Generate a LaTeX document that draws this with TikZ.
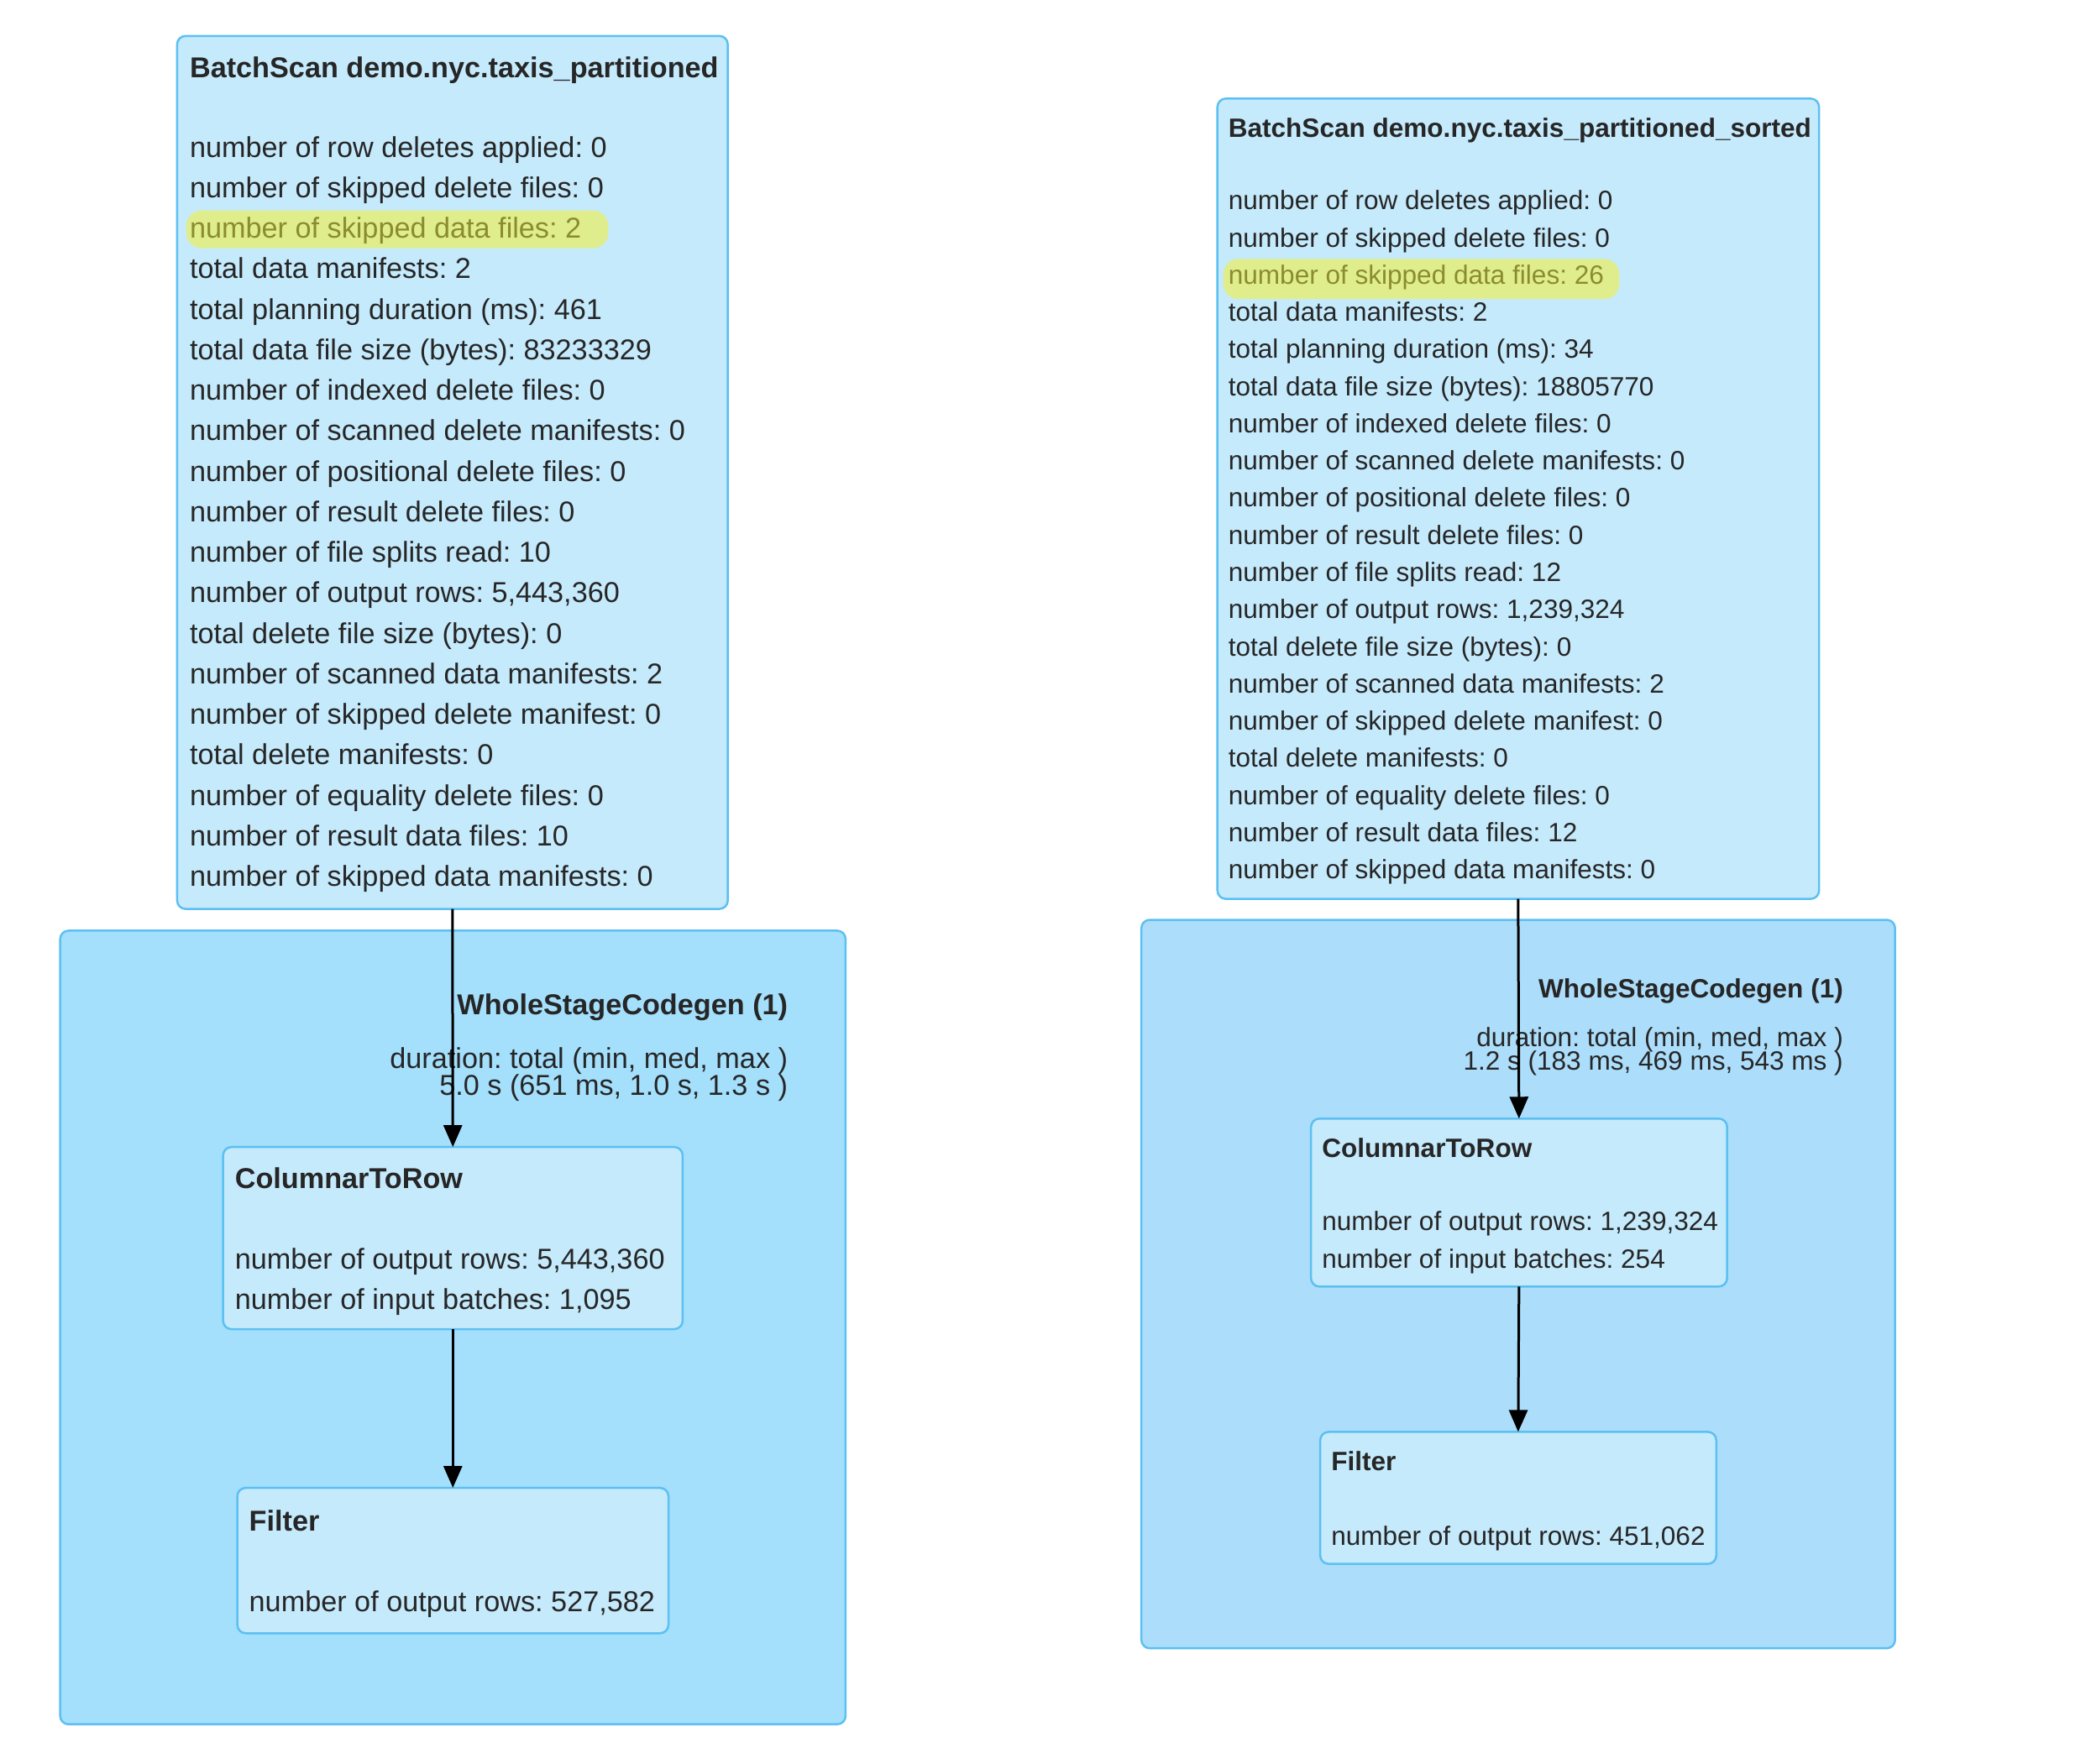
\documentclass[tikz,border=0pt]{standalone}
\usepackage{fontspec}
\setmainfont{Liberation Sans}
\usetikzlibrary{arrows.meta}
\frenchspacing

\definecolor{boxfill}{RGB}{197,234,252}
\definecolor{boxline}{RGB}{92,192,242}
\definecolor{clusfillL}{RGB}{164,223,252}
\definecolor{clusfillR}{RGB}{172,221,250}
\definecolor{txt}{RGB}{38,38,38}
\definecolor{hlfill}{RGB}{224,237,140}
\definecolor{hltext}{RGB}{138,140,48}

\newcommand{\fontL}{\fontsize{34.4}{40}\selectfont}
\newcommand{\fontR}{\fontsize{31.7}{37}\selectfont}

\tikzset{
  clusbox/.style={draw=boxline, line width=2.5pt, rounded corners=10pt, anchor=north west, inner sep=0pt, outer sep=0pt},
  opbox/.style={draw=boxline, fill=boxfill, line width=2.5pt, rounded corners=10pt, anchor=north west, inner sep=0pt, outer sep=0pt},
  metric/.style={anchor=base west, inner sep=0pt, text=txt},
  stagelabel/.style={anchor=base east, inner sep=0pt, text=txt},
  hl/.style={fill=hlfill, rounded corners=18pt},
  flow/.style={line width=3pt, -{Triangle[length=26pt,width=22pt]}}
}

\begin{document}
\begin{tikzpicture}[x=1pt,y=-1pt,scale=0.995,every node/.append style={transform shape}]
  \useasboundingbox (0,0) rectangle (2502.5,2110.55);

  %%left plan
  \node[clusbox, fill=clusfillL, minimum width=940pt, minimum height=950pt] (wscgL) at (72,1114) {};
  \node[opbox, minimum width=659pt, minimum height=1045pt] (scanL) at (212,43) {};
  \fill[hl] (223,252) rectangle (728,297);
  \node[metric, font=\fontL\bfseries] (tL) at (227,93) {BatchScan demo.nyc.taxis\_partitioned};
  \node[metric, font=\fontL] (l0) at (227,188) {number of row deletes applied: 0};
  \node[metric, font=\fontL] (l1) at (227,236.5) {number of skipped delete files: 0};
  \node[metric, font=\fontL, text=hltext] (l2) at (227,285) {number of skipped data files: 2};
  \node[metric, font=\fontL] (l3) at (227,333.5) {total data manifests: 2};
  \node[metric, font=\fontL] (l4) at (227,382) {total planning duration (ms): 461};
  \node[metric, font=\fontL] (l5) at (227,430.5) {total data file size (bytes): 83233329};
  \node[metric, font=\fontL] (l6) at (227,479) {number of indexed delete files: 0};
  \node[metric, font=\fontL] (l7) at (227,527.5) {number of scanned delete manifests: 0};
  \node[metric, font=\fontL] (l8) at (227,576) {number of positional delete files: 0};
  \node[metric, font=\fontL] (l9) at (227,624.5) {number of result delete files: 0};
  \node[metric, font=\fontL] (l10) at (227,673) {number of file splits read: 10};
  \node[metric, font=\fontL] (l11) at (227,721.5) {number of output rows: 5,443,360};
  \node[metric, font=\fontL] (l12) at (227,770) {total delete file size (bytes): 0};
  \node[metric, font=\fontL] (l13) at (227,818.5) {number of scanned data manifests: 2};
  \node[metric, font=\fontL] (l14) at (227,867) {number of skipped delete manifest: 0};
  \node[metric, font=\fontL] (l15) at (227,915.5) {total delete manifests: 0};
  \node[metric, font=\fontL] (l16) at (227,964) {number of equality delete files: 0};
  \node[metric, font=\fontL] (l17) at (227,1012.5) {number of result data files: 10};
  \node[metric, font=\fontL] (l18) at (227,1061) {number of skipped data manifests: 0};

  \node[stagelabel, font=\fontL\bfseries] (wL) at (943,1215) {WholeStageCodegen (1)};
  \node[stagelabel, font=\fontL] (dL) at (943,1279) {duration: total (min, med, max )};
  \node[stagelabel, font=\fontL] (vL) at (943,1311) {5.0 s (651 ms, 1.0 s, 1.3 s )};

  %%ColumnarToRow
  \node[opbox, minimum width=550pt, minimum height=218pt] (ctrL) at (267,1373) {};
  \node[metric, font=\fontL\bfseries] at (281,1423) {ColumnarToRow};
  \node[metric, font=\fontL] at (281,1519) {number of output rows: 5,443,360};
  \node[metric, font=\fontL] at (281,1567) {number of input batches: 1,095};
  %%Filter
  \node[opbox, minimum width=516pt, minimum height=174pt] (filL) at (284,1781) {};
  \node[metric, font=\fontL\bfseries] at (298,1833) {Filter};
  \node[metric, font=\fontL] at (298,1929) {number of output rows: 527,582};

  \draw[flow] (scanL.south) -- (ctrL.north);
  \draw[flow] (ctrL.south) -- (filL.north);

  %%right plan
  \node[clusbox, fill=clusfillR, minimum width=902pt, minimum height=872pt] (wscgR) at (1366,1101) {};
  \node[opbox, minimum width=720pt, minimum height=958pt] (scanR) at (1457,118) {};
  \fill[hl] (1464,310) rectangle (1938,358);
  \node[metric, font=\fontR\bfseries] (tR) at (1470,164) {BatchScan demo.nyc.taxis\_partitioned\_sorted};
  \node[metric, font=\fontR] (r0) at (1470,251) {number of row deletes applied: 0};
  \node[metric, font=\fontR] (r1) at (1470,295.5) {number of skipped delete files: 0};
  \node[metric, font=\fontR, text=hltext] (r2) at (1470,340) {number of skipped data files: 26};
  \node[metric, font=\fontR] (r3) at (1470,384.5) {total data manifests: 2};
  \node[metric, font=\fontR] (r4) at (1470,429) {total planning duration (ms): 34};
  \node[metric, font=\fontR] (r5) at (1470,473.5) {total data file size (bytes): 18805770};
  \node[metric, font=\fontR] (r6) at (1470,518) {number of indexed delete files: 0};
  \node[metric, font=\fontR] (r7) at (1470,562.5) {number of scanned delete manifests: 0};
  \node[metric, font=\fontR] (r8) at (1470,607) {number of positional delete files: 0};
  \node[metric, font=\fontR] (r9) at (1470,651.5) {number of result delete files: 0};
  \node[metric, font=\fontR] (r10) at (1470,696) {number of file splits read: 12};
  \node[metric, font=\fontR] (r11) at (1470,740.5) {number of output rows: 1,239,324};
  \node[metric, font=\fontR] (r12) at (1470,785) {total delete file size (bytes): 0};
  \node[metric, font=\fontR] (r13) at (1470,829.5) {number of scanned data manifests: 2};
  \node[metric, font=\fontR] (r14) at (1470,874) {number of skipped delete manifest: 0};
  \node[metric, font=\fontR] (r15) at (1470,918.5) {total delete manifests: 0};
  \node[metric, font=\fontR] (r16) at (1470,963) {number of equality delete files: 0};
  \node[metric, font=\fontR] (r17) at (1470,1007.5) {number of result data files: 12};
  \node[metric, font=\fontR] (r18) at (1470,1052) {number of skipped data manifests: 0};

  \node[stagelabel, font=\fontR\bfseries] (wR) at (2206,1194) {WholeStageCodegen (1)};
  \node[stagelabel, font=\fontR] (dR) at (2206,1253) {duration: total (min, med, max )};
  \node[stagelabel, font=\fontR] (vR) at (2206,1281) {1.2 s (183 ms, 469 ms, 543 ms )};

  %%ColumnarToRow
  \node[opbox, minimum width=498pt, minimum height=201pt] (ctrR) at (1569,1339) {};
  \node[metric, font=\fontR\bfseries] at (1582,1385) {ColumnarToRow};
  \node[metric, font=\fontR] at (1582,1473) {number of output rows: 1,239,324};
  \node[metric, font=\fontR] at (1582,1518) {number of input batches: 254};
  %%Filter
  \node[opbox, minimum width=474pt, minimum height=158pt] (filR) at (1580,1714) {};
  \node[metric, font=\fontR\bfseries] at (1593,1760) {Filter};
  \node[metric, font=\fontR] at (1593,1850) {number of output rows: 451,062};

  \draw[flow] (scanR.south) -- (ctrR.north);
  \draw[flow] (ctrR.south) -- (filR.north);
\end{tikzpicture}
\end{document}
